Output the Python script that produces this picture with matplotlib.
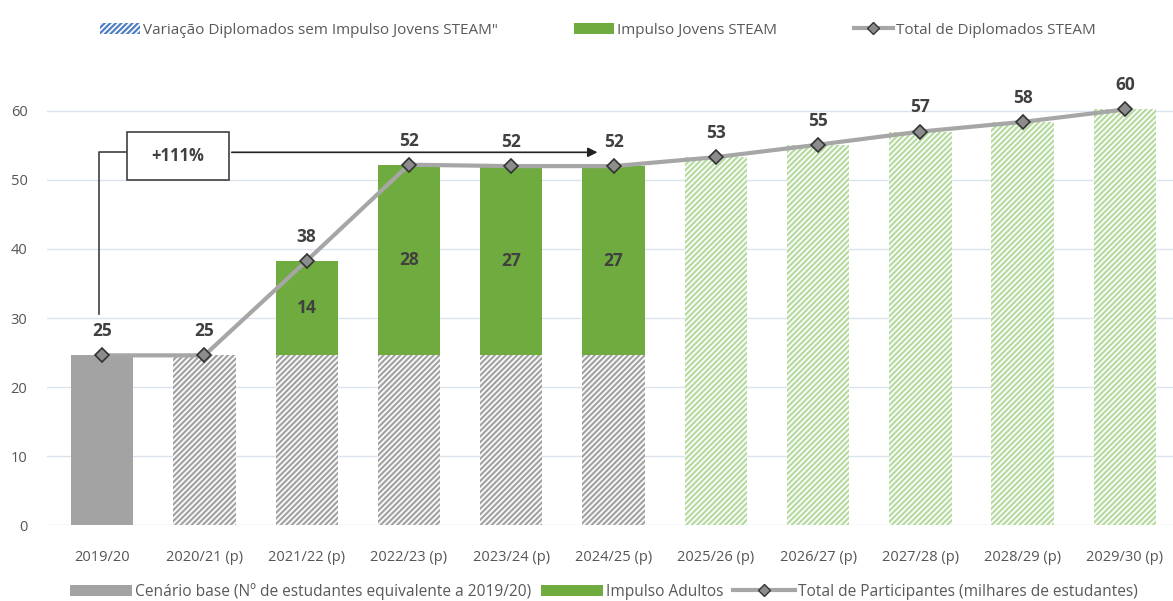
import matplotlib.pyplot as plt
from matplotlib.patches import Patch, Rectangle
from matplotlib.lines import Line2D

plt.rcParams['font.family'] = ['Liberation Sans Narrow', 'Open Sans', 'DejaVu Sans']
plt.rcParams['hatch.linewidth'] = 1.6

years = ['2019/20', '2020/21 (p)', '2021/22 (p)', '2022/23 (p)', '2023/24 (p)', '2024/25 (p)',
         '2025/26 (p)', '2026/27 (p)', '2027/28 (p)', '2028/29 (p)', '2029/30 (p)']
base = [24.6, 24.6, 24.6, 24.6, 24.6, 24.6, 0, 0, 0, 0, 0]
impulse = [0, 0, 13.7, 27.6, 27.4, 27.4, 0, 0, 0, 0, 0]
future = [0, 0, 0, 0, 0, 0, 53.3, 55.1, 57.0, 58.4, 60.2]
total = [24.6, 24.6, 38.3, 52.2, 52.0, 52.0, 53.3, 55.1, 57.0, 58.4, 60.2]

gray = '#a3a3a3'
green = '#6fab3f'
lgreen = '#b5dba0'
line_c = '#a6a6a6'
text_c = '#404040'

fig = plt.figure(figsize=(11.73, 6.01), dpi=100)
ax = fig.add_axes([0.040, 0.126, 0.960, 0.747])

x = list(range(len(years)))
w = 0.61

# base scenario: solid for 2019/20, hatched for projections
ax.bar(x[0], base[0], w, color=gray, zorder=2)
ax.bar(x[1:], base[1:], w, color='white', edgecolor=gray, hatch='//////', linewidth=0, zorder=2)
ax.bar(x, impulse, w, bottom=base, color=green, zorder=2)
ax.bar(x, future, w, color='white', edgecolor=lgreen, hatch='//////', linewidth=0, zorder=2)

for xi, b, v in zip(x, base, impulse):
    if v > 0:
        ax.text(xi, b + v / 2, f'{v:.0f}', ha='center', va='center', fontsize=12.5,
                fontweight='bold', color=text_c, zorder=5)

ax.plot(x, total, color=line_c, lw=3, marker='D', ms=7.5, mfc='#8c8c8c', mec='#333333',
        mew=1.2, zorder=4)
for xi, t in zip(x, total):
    ax.text(xi, t + 2.2, f'{t:.0f}', ha='center', va='bottom', fontsize=12.5,
            fontweight='bold', color=text_c, zorder=5)

# +111% bracket
ax.plot([-0.03, -0.03, 0.24], [30.6, 54.0, 54.0], color='#404040', lw=1.2, zorder=3)
ax.add_patch(Rectangle((0.24, 50.0), 1.0, 7.0, facecolor='white', edgecolor='#404040',
                       lw=1.2, zorder=3))
ax.text(0.74, 53.5, '+111%', ha='center', va='center', fontsize=12, fontweight='bold',
        color=text_c, zorder=5)
ax.annotate('', xy=(4.87, 54.0), xytext=(1.24, 54.0),
            arrowprops=dict(arrowstyle='-|>', color='#222222', lw=1.2, mutation_scale=14),
            zorder=3)

ax.set_xlim(-0.54, 10.47)
ax.set_ylim(0, 65)
ax.set_yticks(range(0, 61, 10))
ax.set_xticks(x)
ax.set_xticklabels(years)
ax.grid(axis='y', color='#dce3ec', lw=1, zorder=0)
for s in ax.spines.values():
    s.set_visible(False)
ax.tick_params(length=0, labelsize=10.5, colors='#555555')
ax.tick_params(axis='x', pad=18)
ax.tick_params(axis='y', pad=14)

top_handles = [
    Patch(facecolor='white', edgecolor='#4f7fc4', hatch='//////', linewidth=0),
    Patch(facecolor=green),
    Line2D([], [], color=line_c, lw=3, marker='D', ms=6, mfc='#8c8c8c', mec='#333333'),
]
top_labels = ['Variação Diplomados sem Impulso Jovens STEAM"', 'Impulso Jovens STEAM',
              'Total de Diplomados STEAM']
fig.legend(top_handles, top_labels, loc='center', bbox_to_anchor=(0.51, 0.95), ncol=3,
           frameon=False, fontsize=11, labelcolor='#595959', columnspacing=5,
           handlelength=2.6, handletextpad=0.2)

bot_handles = [
    Patch(facecolor=gray),
    Patch(facecolor=green),
    Line2D([], [], color=line_c, lw=3, marker='D', ms=6, mfc='#8c8c8c', mec='#333333'),
]
bot_labels = ['Cenário base (Nº de estudantes equivalente a 2019/20)', 'Impulso Adultos',
              'Total de Participantes (milhares de estudantes)']
fig.legend(bot_handles, bot_labels, loc='center', bbox_to_anchor=(0.515, 0.016), ncol=3,
           frameon=False, fontsize=11.2, labelcolor='#595959', columnspacing=0.6,
           handlelength=4.0, handletextpad=0.2, borderpad=0)

fig.savefig('out.png', dpi=100)
